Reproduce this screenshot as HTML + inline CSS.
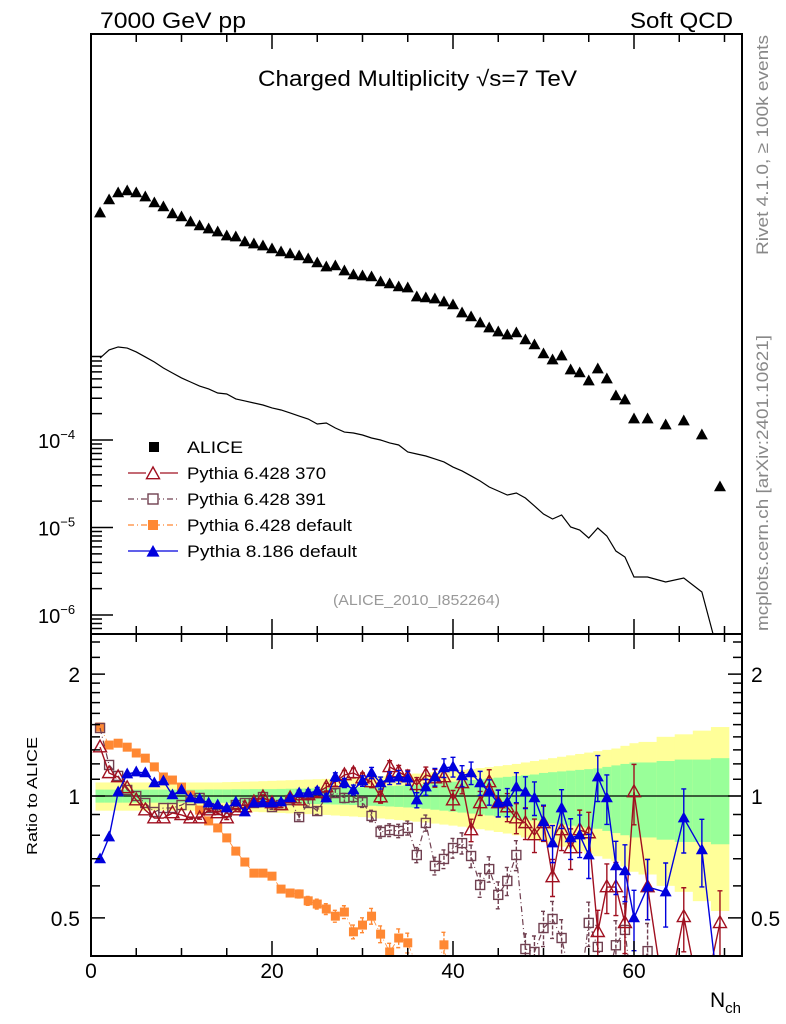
<!DOCTYPE html>
<html><head><meta charset="utf-8"><style>
html,body{margin:0;padding:0;background:#fff;}
svg{display:block;font-family:"Liberation Sans",sans-serif;}
</style></head><body>
<svg id="chart" width="786" height="1024" viewBox="0 0 786 1024" xmlns="http://www.w3.org/2000/svg">
<defs>
<clipPath id="clipMain"><rect x="91" y="34" width="651" height="600"/></clipPath>
<clipPath id="clipRatio"><rect x="91" y="634" width="651" height="322"/></clipPath>
</defs>
<g id="bands" clip-path="url(#clipRatio)"></g>
<g id="mainSeries" clip-path="url(#clipMain)"></g>
<g id="ratioSeries" clip-path="url(#clipRatio)"></g>
<g id="axes"></g>
<text x="100" y="28" font-size="22" textLength="146" lengthAdjust="spacingAndGlyphs">7000 GeV pp</text>
<text x="630" y="28" font-size="22" textLength="103" lengthAdjust="spacingAndGlyphs">Soft QCD</text>
<text x="258" y="86" font-size="22" textLength="319" lengthAdjust="spacingAndGlyphs">Charged Multiplicity √s=7 TeV</text>
<text x="333" y="605" font-size="15" fill="#999" textLength="167" lengthAdjust="spacingAndGlyphs">(ALICE_2010_I852264)</text>
<text transform="translate(768,255) rotate(-90)" font-size="17" fill="#888" textLength="220" lengthAdjust="spacingAndGlyphs">Rivet 4.1.0, ≥ 100k events</text>
<text transform="translate(768,631) rotate(-90)" font-size="17" fill="#888" textLength="296" lengthAdjust="spacingAndGlyphs">mcplots.cern.ch [arXiv:2401.10621]</text>
<text transform="translate(37,855) rotate(-90)" font-size="15" textLength="118" lengthAdjust="spacingAndGlyphs">Ratio to ALICE</text>
<text x="710" y="1007" font-size="21">N<tspan font-size="15" dy="6">ch</tspan></text>
<g id="legend"></g>
</svg>
<script>
const binN = [1,2,3,4,5,6,7,8,9,10,11,12,13,14,15,16,17,18,19,20,21,22,23,24,25,26,27,28,29,30,31,32,33,34,35,36,37,38,39,40,41,42,43,44,45,46,47,48,49,50,51,52,53,54,55,56,57,58,59,60,61.5,63.5,65.5,67.5,69.5];
const binLo = [0.5,1.5,2.5,3.5,4.5,5.5,6.5,7.5,8.5,9.5,10.5,11.5,12.5,13.5,14.5,15.5,16.5,17.5,18.5,19.5,20.5,21.5,22.5,23.5,24.5,25.5,26.5,27.5,28.5,29.5,30.5,31.5,32.5,33.5,34.5,35.5,36.5,37.5,38.5,39.5,40.5,41.5,42.5,43.5,44.5,45.5,46.5,47.5,48.5,49.5,50.5,51.5,52.5,53.5,54.5,55.5,56.5,57.5,58.5,59.5,60.5,62.5,64.5,66.5,68.5];
const binHi = [1.5,2.5,3.5,4.5,5.5,6.5,7.5,8.5,9.5,10.5,11.5,12.5,13.5,14.5,15.5,16.5,17.5,18.5,19.5,20.5,21.5,22.5,23.5,24.5,25.5,26.5,27.5,28.5,29.5,30.5,31.5,32.5,33.5,34.5,35.5,36.5,37.5,38.5,39.5,40.5,41.5,42.5,43.5,44.5,45.5,46.5,47.5,48.5,49.5,50.5,51.5,52.5,53.5,54.5,55.5,56.5,57.5,58.5,59.5,60.5,62.5,64.5,66.5,68.5,70.5];
// log10 of distribution values
const log10Markers = [-1.406,-1.257,-1.177,-1.154,-1.177,-1.223,-1.291,-1.337,-1.417,-1.451,-1.509,-1.554,-1.589,-1.623,-1.669,-1.680,-1.737,-1.760,-1.783,-1.817,-1.851,-1.874,-1.897,-1.931,-1.977,-2.023,-2.011,-2.069,-2.114,-2.126,-2.137,-2.194,-2.217,-2.251,-2.263,-2.366,-2.377,-2.389,-2.423,-2.457,-2.549,-2.594,-2.663,-2.720,-2.766,-2.800,-2.777,-2.857,-2.914,-3.017,-3.086,-3.040,-3.200,-3.234,-3.326,-3.189,-3.303,-3.497,-3.543,-3.760,-3.760,-3.829,-3.783,-3.943,-4.537];
const log10Curve = [-3.063,-2.971,-2.937,-2.949,-2.994,-3.051,-3.109,-3.177,-3.234,-3.291,-3.337,-3.383,-3.417,-3.463,-3.474,-3.531,-3.554,-3.577,-3.600,-3.634,-3.657,-3.691,-3.726,-3.760,-3.817,-3.806,-3.863,-3.909,-3.920,-3.943,-3.977,-4.000,-4.034,-4.057,-4.137,-4.160,-4.183,-4.217,-4.251,-4.309,-4.354,-4.411,-4.469,-4.537,-4.583,-4.629,-4.606,-4.663,-4.754,-4.846,-4.903,-4.857,-4.994,-5.029,-5.120,-5.006,-5.097,-5.269,-5.337,-5.566,-5.566,-5.623,-5.577,-5.737,-6.514];
// ratio panel
const yellowErr = [0.08,0.08,0.08,0.08,0.08,0.08,0.08,0.08,0.08,0.08,0.08,0.08,0.08,0.08,0.082,0.083,0.085,0.086,0.088,0.09,0.092,0.094,0.096,0.098,0.1,0.102,0.105,0.108,0.11,0.113,0.116,0.12,0.124,0.128,0.132,0.136,0.14,0.145,0.15,0.155,0.16,0.166,0.172,0.178,0.185,0.192,0.2,0.21,0.22,0.23,0.24,0.25,0.26,0.27,0.28,0.29,0.3,0.31,0.33,0.35,0.36,0.4,0.42,0.45,0.48];
const greenErr = [0.037,0.037,0.037,0.037,0.037,0.037,0.037,0.037,0.037,0.037,0.037,0.037,0.038,0.038,0.038,0.039,0.039,0.04,0.04,0.04,0.041,0.042,0.043,0.044,0.045,0.046,0.047,0.048,0.05,0.052,0.054,0.056,0.058,0.06,0.063,0.066,0.07,0.075,0.08,0.085,0.09,0.095,0.1,0.105,0.11,0.115,0.12,0.125,0.13,0.14,0.145,0.15,0.155,0.16,0.165,0.17,0.18,0.19,0.2,0.21,0.21,0.22,0.23,0.23,0.24];
const mcErr = [0.005,0.005,0.005,0.005,0.005,0.005,0.005,0.005,0.005,0.005,0.006,0.006,0.007,0.007,0.008,0.009,0.01,0.011,0.012,0.013,0.014,0.015,0.016,0.018,0.02,0.022,0.024,0.026,0.028,0.03,0.032,0.034,0.036,0.038,0.04,0.043,0.046,0.05,0.053,0.056,0.06,0.064,0.068,0.072,0.076,0.08,0.085,0.09,0.095,0.1,0.105,0.11,0.115,0.12,0.125,0.13,0.14,0.15,0.16,0.17,0.17,0.18,0.18,0.19,0.2];
const ratio370 = [1.32,1.14,1.114,1.047,0.977,0.923,0.882,0.882,0.908,0.898,0.882,0.882,0.923,0.908,0.882,0.923,0.939,0.966,0.994,0.961,0.950,0.989,0.977,1.006,1.017,1.052,1.083,1.127,1.14,1.107,1.083,0.994,1.18,1.146,1.114,1.065,1.127,1.107,1.114,0.977,1.077,0.824,0.961,1.083,0.961,0.939,0.882,0.858,0.801,0.858,0.631,0.824,0.744,0.824,0.81,0.462,0.596,0.596,0.486,1.023,0.596,0.3,0.503,0.3,0.486];
const ratio391 = [1.472,1.193,1.121,1.035,1.0,0.961,0.913,0.934,0.934,0.950,0.977,0.989,0.934,0.923,0.913,0.950,0.961,0.961,0.994,0.939,0.950,0.977,0.887,0.961,0.918,0.994,1.017,0.989,0.994,0.966,0.893,0.815,0.824,0.82,0.834,0.715,0.858,0.672,0.699,0.744,0.765,0.711,0.603,0.66,0.57,0.617,0.715,0.419,0.412,0.472,0.497,0.446,0.35,0.33,0.486,0.424,0.35,0.428,0.467,0.3,0.414,0.3,0.3,0.3,0.3];
const ratioDefault6 = [1.48,1.336,1.35,1.32,1.277,1.24,1.18,1.114,1.095,1.052,1.006,0.923,0.868,0.834,0.788,0.731,0.687,0.645,0.645,0.634,0.589,0.576,0.573,0.551,0.541,0.526,0.505,0.517,0.462,0.48,0.505,0.456,0.412,0.446,0.434,0.38,0.35,0.36,0.429,0.3,0.3,0.3,0.3,0.3,0.3,0.3,0.3,0.3,0.3,0.3,0.3,0.3,0.3,0.3,0.3,0.3,0.3,0.3,0.3,0.3,0.3,0.3,0.3,0.3,0.3];
const ratioPythia8 = [0.699,0.792,1.023,1.133,1.146,1.14,1.077,1.089,1.006,1.035,0.989,0.983,0.961,0.950,0.934,0.966,0.913,0.961,0.961,0.961,0.966,0.989,1.017,1.017,1.029,0.989,1.114,1.077,1.035,1.089,1.14,1.077,1.107,1.114,1.107,0.977,1.052,1.114,1.173,1.18,1.121,1.14,1.077,1.023,0.961,0.966,1.052,1.023,0.989,0.863,0.765,0.934,0.788,0.801,0.715,1.114,0.989,0.672,0.653,0.5,0.596,0.579,0.882,0.736,0.3];
const xTicksMajor = [0,20,40,60];
const mainYLabels = [-4,-5,-6];
const ratioLabels = ["0.5","1","2"];

const NS="http://www.w3.org/2000/svg";
const xS = n => 91 + n*9.05;
const yM = L => 440 - (L+4)*87.5;
const yR = r => 796 - 405*Math.log10(Math.max(r,0.05));
function mk(tag, attrs, parent){const e=document.createElementNS(NS,tag);for(const k in attrs)e.setAttribute(k,attrs[k]);parent.appendChild(e);return e;}
const gAxes=document.getElementById('axes');
const gMain=document.getElementById('mainSeries');
const gRatio=document.getElementById('ratioSeries');
const gBands=document.getElementById('bands');
const gLeg=document.getElementById('legend');

function tri(x,y,s,fill,stroke,open,parent){
  const h=s*0.9;
  return mk('polygon',{points:`${x},${y-h*0.6} ${x-s/2},${y+h*0.4} ${x+s/2},${y+h*0.4}`,fill:open?'none':fill,stroke:stroke,'stroke-width':open?1.4:0},parent);
}
function sq(x,y,s,fill,stroke,open,parent){
  return mk('rect',{x:x-s/2,y:y-s/2,width:s,height:s,fill:open?'none':fill,stroke:stroke,'stroke-width':open?1.4:0},parent);
}

// bands
for(let i=0;i<binN.length;i++){
  const x0=xS(binLo[i]), x1=xS(binHi[i]);
  const y1=mk('rect',{x:x0,y:yR(1+yellowErr[i]),width:x1-x0+0.3,height:yR(1-yellowErr[i])-yR(1+yellowErr[i]),fill:'#ffff99'},gBands);
  
  
  const g1=mk('rect',{x:x0,y:yR(1+greenErr[i]),width:x1-x0+0.3,height:yR(1-greenErr[i])-yR(1+greenErr[i]),fill:'#99ff99'},gBands);
  
  
}
const refLine=mk('line',{x1:91,x2:742,y1:yR(1),y2:yR(1),stroke:'#000','stroke-width':1.2},gBands);



// main curve
const cp=mk('polyline',{points:binN.map((n,i)=>`${xS(n)},${yM(log10Curve[i])}`).join(' '),fill:'none',stroke:'#000','stroke-width':1.2},gMain);


for(let i=0;i<binN.length;i++){
  const t=tri(xS(binN[i]),yM(log10Markers[i]),12,'#000','none',false,gMain);
  
  
}

// ratio series
const series=[
  {vals:ratioDefault6,color:'#ff8833',dash:'6,3,1,3',marker:'sq',open:false,name:'pythia6-default',lw:0.8,size:9},
  {vals:ratio391,color:'#704050',dash:'6,3,1,3',marker:'sq',open:true,name:'pythia6-391',lw:1.2,size:9},
  {vals:ratio370,color:'#a01020',dash:'',marker:'tri',open:true,name:'pythia6-370',lw:1.4,size:13},
  {vals:ratioPythia8,color:'#0000dd',dash:'',marker:'tri',open:false,name:'pythia8-default',lw:1.4,size:12}
];
series.forEach(s=>{
  const g=mk('g',{},gRatio);
  
  
  const pl=mk('polyline',{points:binN.map((n,i)=>`${xS(n)},${yR(s.vals[i])}`).join(' '),fill:'none',stroke:s.color,'stroke-width':s.lw},g);
  if(s.dash)pl.setAttribute('stroke-dasharray',s.dash);
  
  
  for(let i=0;i<binN.length;i++){
    const x=xS(binN[i]), v=s.vals[i], e=v*mcErr[i]*(s.name==='pythia6-default'?1.4:1);
    const yt=yR(v+e), yb=yR(v-e);
    if(yb-yt>2){
      const eb=mk('path',{d:`M${x},${yt}V${yb}M${x-2.5},${yt}H${x+2.5}M${x-2.5},${yb}H${x+2.5}`,stroke:s.color,'stroke-width':1.4,fill:'none'},g);
      if(s.dash)eb.setAttribute('stroke-dasharray','4,2');
      
      
    }
    const m = s.marker==='tri'? tri(x,yR(v),s.size,s.color,s.color,s.open,g) : sq(x,yR(v),s.size,s.color,s.color,s.open,g);
    
    
  }
});

// frames
[[91,34,651,600],[91,634,651,322]].forEach((r,k)=>{
  const f=mk('rect',{x:r[0],y:r[1],width:r[2],height:r[3],fill:'none',stroke:'#000','stroke-width':2},gAxes);
  
  
});
let td='';
for(let n=5;n<72;n+=5){
  const len = n%20===0?15:8;
  const x=xS(n);
  td+=`M${x},34v${len}M${x},634v${-len}M${x},634v${len}M${x},956v${-len}`;
}
for(let d=-7;d<=-4;d++){
  for(let m=1;m<10;m++){
    const L=d+Math.log10(m); const y=yM(L);
    if(y<355||y>634)continue;
    const len=m===1?22:11;
    td+=`M91,${y}h${len}`;
  }
}
const rt=[0.4,0.5,0.6,0.7,0.8,0.9,1,1.1,1.2,1.3,1.4,1.5,1.6,1.7,1.8,1.9,2,2.2,2.4];
rt.forEach(r=>{
  const y=yR(r); if(y<634||y>956)return;
  const len=(r===0.5||r===1||r===2)?14:9;
  td+=`M91,${y}h${len}M742,${y}h${-len}`;
});
const tp=mk('path',{d:td,stroke:'#000','stroke-width':1.5,fill:'none'},gAxes);



xTicksMajor.forEach(n=>{
  const t=mk('text',{x:xS(n),y:978,'font-size':21,'text-anchor':'middle'},gAxes);
  t.textContent=String(n);
  
  
});
mainYLabels.forEach(d=>{
  const t=mk('text',{x:38,y:yM(d)+8,'font-size':20},gAxes);
  t.textContent='10';
  const s=mk('tspan',{'font-size':13,dy:-9},t);
  s.textContent='−'+(-d);
  
  
});
ratioLabels.forEach(l=>{
  const y=yR(parseFloat(l))+8;
  const t1=mk('text',{x:80,y:y,'font-size':21,'text-anchor':'end'},gAxes);
  t1.textContent=l;
  
  
  const t2=mk('text',{x:751,y:y,'font-size':21},gAxes);
  t2.textContent=l;
  
  
});

// legend
const legNames=['ALICE','Pythia 6.428 370','Pythia 6.428 391','Pythia 6.428 default','Pythia 8.186 default'];
const legLens=[56,139,139,165,170];
const legY=[447,473,499,525,551];
const legStyles=[null,series[2],series[1],series[0],series[3]];
legNames.forEach((nm,i)=>{
  const g=mk('g',{},gLeg);
  
  
  const y=legY[i]; const s=legStyles[i];
  if(!s){ sq(154,y,10,'#000','#000',false,g); }
  else{
    const l=mk('line',{x1:128,x2:178,y1:y,y2:y,stroke:s.color,'stroke-width':1.3},g);
    if(s.dash)l.setAttribute('stroke-dasharray',s.dash);
    if(s.marker==='tri'){ if(s.open) mk('rect',{x:146,y:y-7,width:14,height:13,fill:'#fff'},g); tri(153,y+1,13,s.color,s.color,s.open,g);}
    else { if(s.open) mk('rect',{x:147,y:y-6,width:12,height:12,fill:'#fff'},g); sq(153,y,10,s.color,s.color,s.open,g);}
  }
  const t=mk('text',{x:187,y:y+6,'font-size':17,textLength:legLens[i],lengthAdjust:'spacingAndGlyphs'},g);
  t.textContent=nm;
});
</script>
</body></html>
